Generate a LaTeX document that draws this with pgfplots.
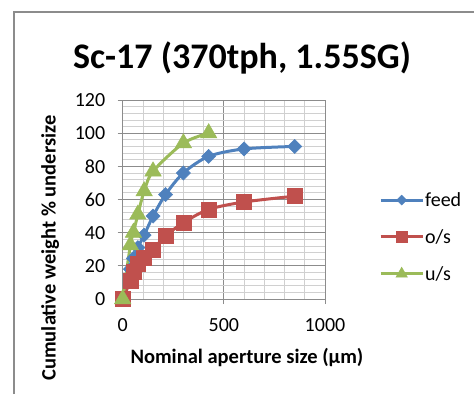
\documentclass[border=0pt]{standalone}
\usepackage{fontspec}
\setmainfont{Carlito}
\usepackage{pgfplots}
\pgfplotsset{compat=1.18}
\definecolor{cblue}{HTML}{4F81BD}
\definecolor{cred}{HTML}{C0504D}
\definecolor{cgreen}{HTML}{9BBB59}
\definecolor{majgrid}{HTML}{8C8C8C}
\definecolor{mingrid}{HTML}{D0D0D0}
\begin{document}
\begin{tikzpicture}[x=1pt,y=1pt]
\useasboundingbox (0,0) rectangle (474,394);
\draw[color=majgrid, line width=1.5pt] (14,0) -- (14,382) -- (474,382);
\node[font=\fontsize{36}{36}\selectfont\bfseries] at (242,336) {Sc-17 (370tph, 1.55SG)};
\begin{axis}[
  at={(122.7pt,95pt)}, anchor=south west,
  scale only axis, width=202.3pt, height=199pt,
  xmin=0, xmax=1000, ymin=0, ymax=120,
  xtick={0,500,1000}, ytick={0,20,...,120},
  minor x tick num=4, minor y tick num=4,
  grid=both,
  major grid style={color=majgrid, line width=0.8pt},
  minor grid style={color=mingrid, line width=0.8pt},
  axis lines*=left,
  axis line style={color=majgrid, line width=1pt},
  tick align=outside, major tick length=5pt, minor tick length=0pt,
  tick style={color=majgrid, line width=1pt},
  /pgf/number format/assume math mode=true,
  /pgf/number format/1000 sep={},
  ticklabel style={font=\fontsize{20}{20}\selectfont},
  yticklabel style={xshift=-9pt},
  xticklabel style={yshift=-11pt},
  xlabel={Nominal aperture size (µm)},
  ylabel={Cumulative weight \% undersize},
  every axis x label/.style={at={(axis description cs:0.614,-0.296)}, anchor=center, font=\fontsize{20.5}{20.5}\selectfont\bfseries},
  every axis y label/.style={at={(axis description cs:-0.359,0.256)}, anchor=center, rotate=90, font=\fontsize{20.5}{20.5}\selectfont\bfseries},
  legend style={at={(axis description cs:1.252,0.3116)}, anchor=west, draw=none, fill=none,
    font=\fontsize{20}{20}\selectfont, row sep=19.5pt,
    nodes={inner sep=1pt}},
  legend cell align=left,
  legend image code/.code={\draw[#1, mark repeat=2, mark phase=2, every mark/.append style={scale=0.7}] plot coordinates {(0pt,0pt) (21pt,0pt) (42pt,0pt)};},
  clip=false,
]
\addplot[color=cblue, line width=3pt, smooth, tension=0.5, mark=square*, mark size=5pt,
  mark options={solid, rotate=45, fill=cblue, draw=cblue, line width=0.5pt}]
  coordinates {(0,0) (38,18) (53,24.5) (75,31) (106,38.5) (150,50) (212,63) (300,76) (425,86) (600,90.5) (850,92)};
\addlegendentry{feed}
\addplot[color=cred, line width=3pt, smooth, tension=0.5, mark=square*, mark size=7.5pt,
  mark options={solid, fill=cred, draw=cred, line width=0.5pt}]
  coordinates {(0,0) (38,11) (53,16.5) (75,21.5) (106,25) (150,30) (212,38) (300,46) (425,54) (600,58.5) (850,62)};
\addlegendentry{o/s}
\addplot[color=cgreen, line width=3pt, smooth, tension=0.5, mark=triangle*, mark size=9.5pt,
  mark options={solid, fill=cgreen, draw=cgreen, line width=0.5pt}]
  coordinates {(0,0) (38,32.5) (53,40) (75,51) (106,65) (150,77) (300,94) (425,100)};
\addlegendentry{u/s}
\end{axis}
\end{tikzpicture}
\end{document}
